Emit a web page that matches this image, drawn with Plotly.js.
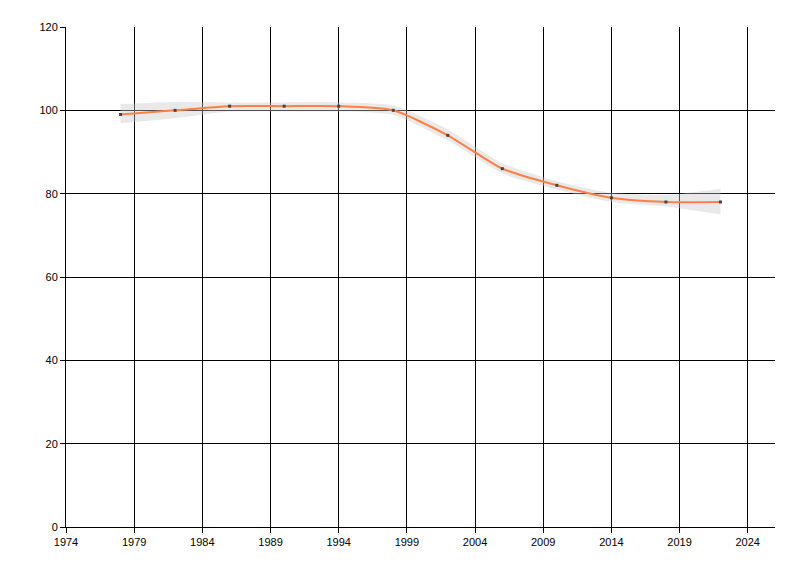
<!DOCTYPE html>
<html>
<head>
<meta charset="utf-8">
<script src="https://cdn.plot.ly/plotly-3.0.1.min.js"></script>
<style>html,body{margin:0;padding:0;background:#fff;}#chart{width:800px;height:576px;}</style>
</head>
<body>
<div id="chart"></div>
<script>
const years = [1978, 1982, 1986, 1990, 1994, 1998, 2002, 2006, 2010, 2014, 2018, 2022];
const values = [99, 100, 101, 101, 101, 100, 94, 86, 82, 79, 78, 78];
const upper = [101.5, 102.0, 101.9, 101.9, 101.9, 101.2, 95.4, 87.3, 83.0, 80.2, 79.7, 81.2];
const lower = [96.9, 98.1, 99.7, 99.7, 99.7, 98.9, 92.8, 84.9, 81.0, 78.0, 76.9, 75.0];
const xTicks = [1974, 1979, 1984, 1989, 1994, 1999, 2004, 2009, 2014, 2019, 2024];
const yTicks = [0, 20, 40, 60, 80, 100, 120];

const traces = [
  {x: years, y: lower, mode: 'lines', line: {width: 0, shape: 'spline', smoothing: 0.6}, hoverinfo: 'skip', showlegend: false},
  {x: years, y: upper, mode: 'lines', fill: 'tonexty', fillcolor: 'rgba(200,200,200,0.4)', line: {width: 0, shape: 'spline', smoothing: 0.6}, hoverinfo: 'skip', showlegend: false},
  {x: years, y: values, mode: 'lines+markers', line: {color: '#ff7f45', width: 2, shape: 'spline', smoothing: 0.6}, marker: {color: '#444444', size: 3, symbol: 'square'}, showlegend: false}
];

const axisFont = {family: 'Liberation Sans, Arial, sans-serif', size: 11, color: '#000'};
const layout = {
  width: 800, height: 576,
  margin: {l: 66, r: 25, t: 27, b: 49},
  paper_bgcolor: '#fff', plot_bgcolor: '#fff',
  showlegend: false,
  xaxis: {
    range: [1974, 2026], tickmode: 'array', tickvals: xTicks, ticktext: xTicks.map(String),
    showgrid: true, gridcolor: '#000', gridwidth: 1,
    showline: true, linecolor: '#000', linewidth: 1,
    ticks: 'outside', ticklen: 5, tickcolor: '#000', tickfont: axisFont,
    zeroline: false, fixedrange: true
  },
  yaxis: {
    range: [0, 120], tickmode: 'array', tickvals: yTicks, ticktext: yTicks.map(String),
    showgrid: true, gridcolor: '#000', gridwidth: 1,
    showline: true, linecolor: '#000', linewidth: 1,
    ticks: 'outside', ticklen: 5, tickcolor: '#000', tickfont: axisFont,
    zeroline: false, fixedrange: true
  }
};
Plotly.newPlot('chart', traces, layout, {displayModeBar: false, staticPlot: true});
</script>
</body>
</html>
